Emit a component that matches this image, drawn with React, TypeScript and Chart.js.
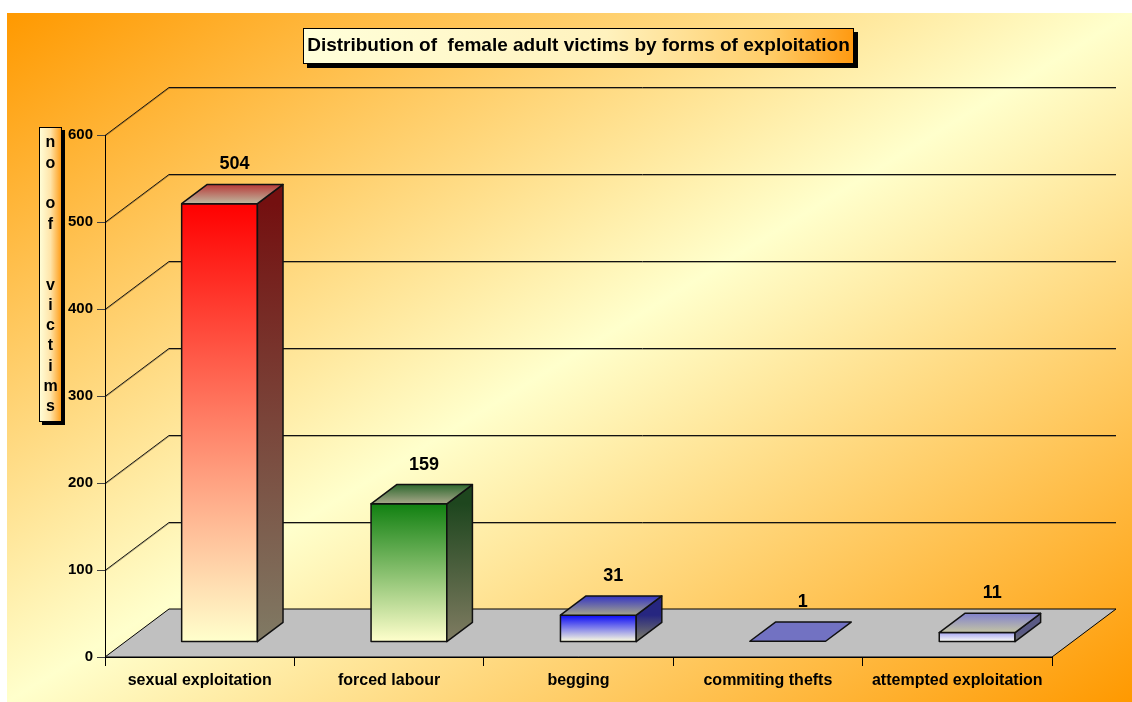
import React, { useEffect, useRef } from 'react';
import { Chart, registerables } from 'chart.js';

Chart.register(...registerables);

// ---------- data ----------
const categories = ['sexual exploitation', 'forced labour', 'begging', 'commiting thefts', 'attempted exploitation'];
const victims = [504, 159, 31, 1, 11];
const yMin = 0;
const yMax = 600;
const yStep = 100;
const chartTitle = 'Distribution of  female adult victims by forms of exploitation';
const yAxisTitle = 'no of  victims';

// ---------- face colours (per bar) ----------
const frontTopColors = ['#FF0000', '#118011', '#0A0AF5', '#7272C2', '#A6A6F2'];
const frontBottomColors = ['#FFFFCC', '#FFFFCC', '#FFFFE0', '#7272C2', '#FFFFF4'];
const sideTopColors = ['#741010', '#1E461E', '#262680', '#55558F', '#5A5A84'];
const sideBottomColors = ['#807A64', '#807C62', '#808068', '#55558F', '#70706A'];
const topFrontColors = ['#BEB8A0', '#A8A88A', '#A6A68A', '#7272C2', '#C4C4A4'];
const topBackColors = ['#B83A38', '#2E682E', '#3434C4', '#7272C2', '#8282CC'];

const FONT = 'Arial, "Liberation Sans", sans-serif';
const TITLE_SIZE = 19;
const TITLE_PAD_TOP = 34;
const DEPTH_X = 64;
const DEPTH_Y = -48;
const BAR_FRONT = 0.31;
const BAR_BACK = 0.71;

function drawBoxWithShadow(ctx: CanvasRenderingContext2D, x: number, y: number, w: number, h: number, grad: CanvasGradient, sh: number) {
  ctx.fillStyle = '#000';
  ctx.fillRect(x + sh, y + sh, w, h);
  ctx.fillStyle = grad;
  ctx.fillRect(x, y, w, h);
  ctx.strokeStyle = '#000';
  ctx.lineWidth = 1;
  ctx.strokeRect(x + 0.5, y + 0.5, w - 1, h - 1);
}

const threeD = {
  id: 'threeD',
  beforeDraw(chart: any) {
    const { ctx, chartArea } = chart;
    const W = chart.width;
    const H = chart.height;
    ctx.save();

    // background gradient (diagonal: orange - pale yellow - orange)
    const bx = 7, by = 13, bw = W - 7, bh = H - 13;
    const cx = bx + bw / 2, cy = by + bh / 2;
    const len = Math.hypot(bw, bh);
    const ux = bh / len, uy = bw / len;
    const half = Math.abs((-bw / 2) * ux + (-bh / 2) * uy);
    const bg = ctx.createLinearGradient(cx - ux * half, cy - uy * half, cx + ux * half, cy + uy * half);
    bg.addColorStop(0, '#FF9900');
    bg.addColorStop(0.5, '#FFFFCC');
    bg.addColorStop(1, '#FF9900');
    ctx.fillStyle = bg;
    ctx.fillRect(bx, by, bw, bh);

    const ys = chart.scales.y;
    const left = chartArea.left, right = chartArea.right, bottom = chartArea.bottom;

    // wall gridlines
    ys.ticks.forEach((t: any) => {
      if (t.value <= yMin) return;
      const py = Math.round(ys.getPixelForValue(t.value));
      for (const [off, col] of [[1, 'rgba(0,0,0,0.3)'], [0, '#111']] as [number, string][]) {
        ctx.strokeStyle = col;
        ctx.lineWidth = 1;
        ctx.beginPath();
        ctx.moveTo(left, py + 0.5 + off);
        ctx.lineTo(left + DEPTH_X, py + DEPTH_Y + 0.5 + off);
        ctx.lineTo(right + DEPTH_X, py + DEPTH_Y + 0.5 + off);
        ctx.stroke();
      }
    });

    // floor
    ctx.beginPath();
    ctx.moveTo(left, bottom);
    ctx.lineTo(right, bottom);
    ctx.lineTo(right + DEPTH_X, bottom + DEPTH_Y);
    ctx.lineTo(left + DEPTH_X, bottom + DEPTH_Y);
    ctx.closePath();
    ctx.fillStyle = '#C0C0C0';
    ctx.fill();
    ctx.strokeStyle = '#000';
    ctx.lineWidth = 1;
    ctx.stroke();

    // title box
    const tb = chart.titleBlock;
    if (tb) {
      ctx.font = `bold ${TITLE_SIZE}px ${FONT}`;
      const tw = ctx.measureText(chartTitle).width;
      const tcx = tb.left + tb.width / 2;
      const tcy = tb.top + TITLE_PAD_TOP + TITLE_SIZE * 0.6;
      const x0 = Math.round(tcx - tw / 2 - 4);
      const w = Math.round(tw + 8);
      const g = ctx.createLinearGradient(x0, 0, x0 + w, 0);
      g.addColorStop(0, '#FFFFDA');
      g.addColorStop(0.55, '#FFF2BE');
      g.addColorStop(0.85, '#FFCC66');
      g.addColorStop(1, '#FF9910');
      drawBoxWithShadow(ctx, x0, Math.round(tcy - 17), w, 36, g, 4);
    }

    // y axis title box
    const lx = 39, ly = 127, lw = 23, lh = 295;
    const lg = ctx.createLinearGradient(lx, 0, lx + lw, 0);
    lg.addColorStop(0, '#FFFFDA');
    lg.addColorStop(0.5, '#FFE4A8');
    lg.addColorStop(1, '#FF9910');
    drawBoxWithShadow(ctx, lx, ly, lw, lh, lg, 3);
    ctx.fillStyle = '#000';
    ctx.font = `bold 16px ${FONT}`;
    ctx.textAlign = 'center';
    ctx.textBaseline = 'middle';
    const chars = yAxisTitle.split('');
    chars.forEach((c, i) => {
      if (c.trim()) ctx.fillText(c, lx + lw / 2, 143 + i * 20.3);
    });

    ctx.restore();
  },
  afterDatasetsDraw(chart: any) {
    const { ctx } = chart;
    const meta = chart.getDatasetMeta(0);
    const fdx = DEPTH_X * BAR_FRONT, fdy = DEPTH_Y * BAR_FRONT;
    const ddx = DEPTH_X * (BAR_BACK - BAR_FRONT), ddy = DEPTH_Y * (BAR_BACK - BAR_FRONT);
    ctx.save();
    ctx.lineJoin = 'round';
    meta.data.forEach((el: any, i: number) => {
      const x0 = el.x - el.width / 2 + fdx;
      const x1 = el.x + el.width / 2 + fdx;
      const yT = el.y + fdy;
      const yB = el.base + fdy;
      ctx.strokeStyle = '#111';
      ctx.lineWidth = 1.5;
      // front
      if (yB - yT > 0.5) {
        const fg = ctx.createLinearGradient(0, yT, 0, yB);
        fg.addColorStop(0, frontTopColors[i]);
        fg.addColorStop(1, frontBottomColors[i]);
        ctx.fillStyle = fg;
        ctx.beginPath();
        ctx.rect(x0, yT, x1 - x0, yB - yT);
        ctx.fill();
        ctx.stroke();
        // side
        const sg = ctx.createLinearGradient(0, yT, 0, yB);
        sg.addColorStop(0, sideTopColors[i]);
        sg.addColorStop(1, sideBottomColors[i]);
        ctx.fillStyle = sg;
        ctx.beginPath();
        ctx.moveTo(x1, yT);
        ctx.lineTo(x1 + ddx, yT + ddy);
        ctx.lineTo(x1 + ddx, yB + ddy);
        ctx.lineTo(x1, yB);
        ctx.closePath();
        ctx.fill();
        ctx.stroke();
      }
      // top
      const tg = ctx.createLinearGradient(0, yT, 0, yT + ddy);
      tg.addColorStop(0, topFrontColors[i]);
      tg.addColorStop(1, topBackColors[i]);
      ctx.fillStyle = tg;
      ctx.beginPath();
      ctx.moveTo(x0, yT);
      ctx.lineTo(x1, yT);
      ctx.lineTo(x1 + ddx, yT + ddy);
      ctx.lineTo(x0 + ddx, yT + ddy);
      ctx.closePath();
      ctx.fill();
      ctx.stroke();

      // value label
      ctx.fillStyle = '#000';
      ctx.font = `bold 18px ${FONT}`;
      ctx.textAlign = 'center';
      ctx.textBaseline = 'middle';
      ctx.fillText(String(victims[i]), el.x + fdx + 15, el.y - 54);
    });
    ctx.restore();
  },
};

export default function App() {
  const ref = useRef<HTMLCanvasElement>(null);
  useEffect(() => {
    if (!ref.current) return;
    const chart = new Chart(ref.current, {
      type: 'bar',
      data: {
        labels: categories,
        datasets: [
          {
            label: 'no of victims',
            data: victims,
            backgroundColor: 'rgba(0,0,0,0)',
            borderWidth: 0,
            categoryPercentage: 1,
            barPercentage: 0.4,
          },
        ],
      },
      options: {
        responsive: false,
        animation: false,
        events: [],
        layout: { padding: { left: 0, right: 80, top: 0, bottom: 0 } },
        plugins: {
          legend: { display: false },
          tooltip: { enabled: false },
          title: {
            display: true,
            text: chartTitle,
            fullSize: false,
            color: '#000',
            font: { family: FONT, size: TITLE_SIZE, weight: 'bold' },
            padding: { top: TITLE_PAD_TOP, bottom: 135 - TITLE_PAD_TOP - TITLE_SIZE * 1.2 },
          },
        },
        scales: {
          x: {
            grid: { drawOnChartArea: false, drawTicks: true, tickLength: 9, color: '#000', offset: true },
            border: { display: true, color: '#000' },
            ticks: { color: '#000', font: { family: FONT, size: 16, weight: 'bold' }, padding: 5, maxRotation: 0, autoSkip: false },
            afterFit: (s: any) => { s.height = 45; },
          },
          y: {
            min: yMin,
            max: yMax,
            ticks: { stepSize: yStep, color: '#000', font: { family: FONT, size: 15, weight: 'bold' }, padding: 4 },
            grid: { drawOnChartArea: false, drawTicks: true, tickLength: 8, color: '#404040' },
            border: { display: true, color: '#000' },
            afterFit: (s: any) => { s.width = 105; },
          },
        },
      },
      plugins: [threeD],
    } as any);
    return () => chart.destroy();
  }, []);
  return (
    <div style={{ position: 'fixed', left: 0, top: 0, width: 1132, height: 702 }}>
      <canvas ref={ref} width={1132} height={702} style={{ display: 'block' }} />
    </div>
  );
}
